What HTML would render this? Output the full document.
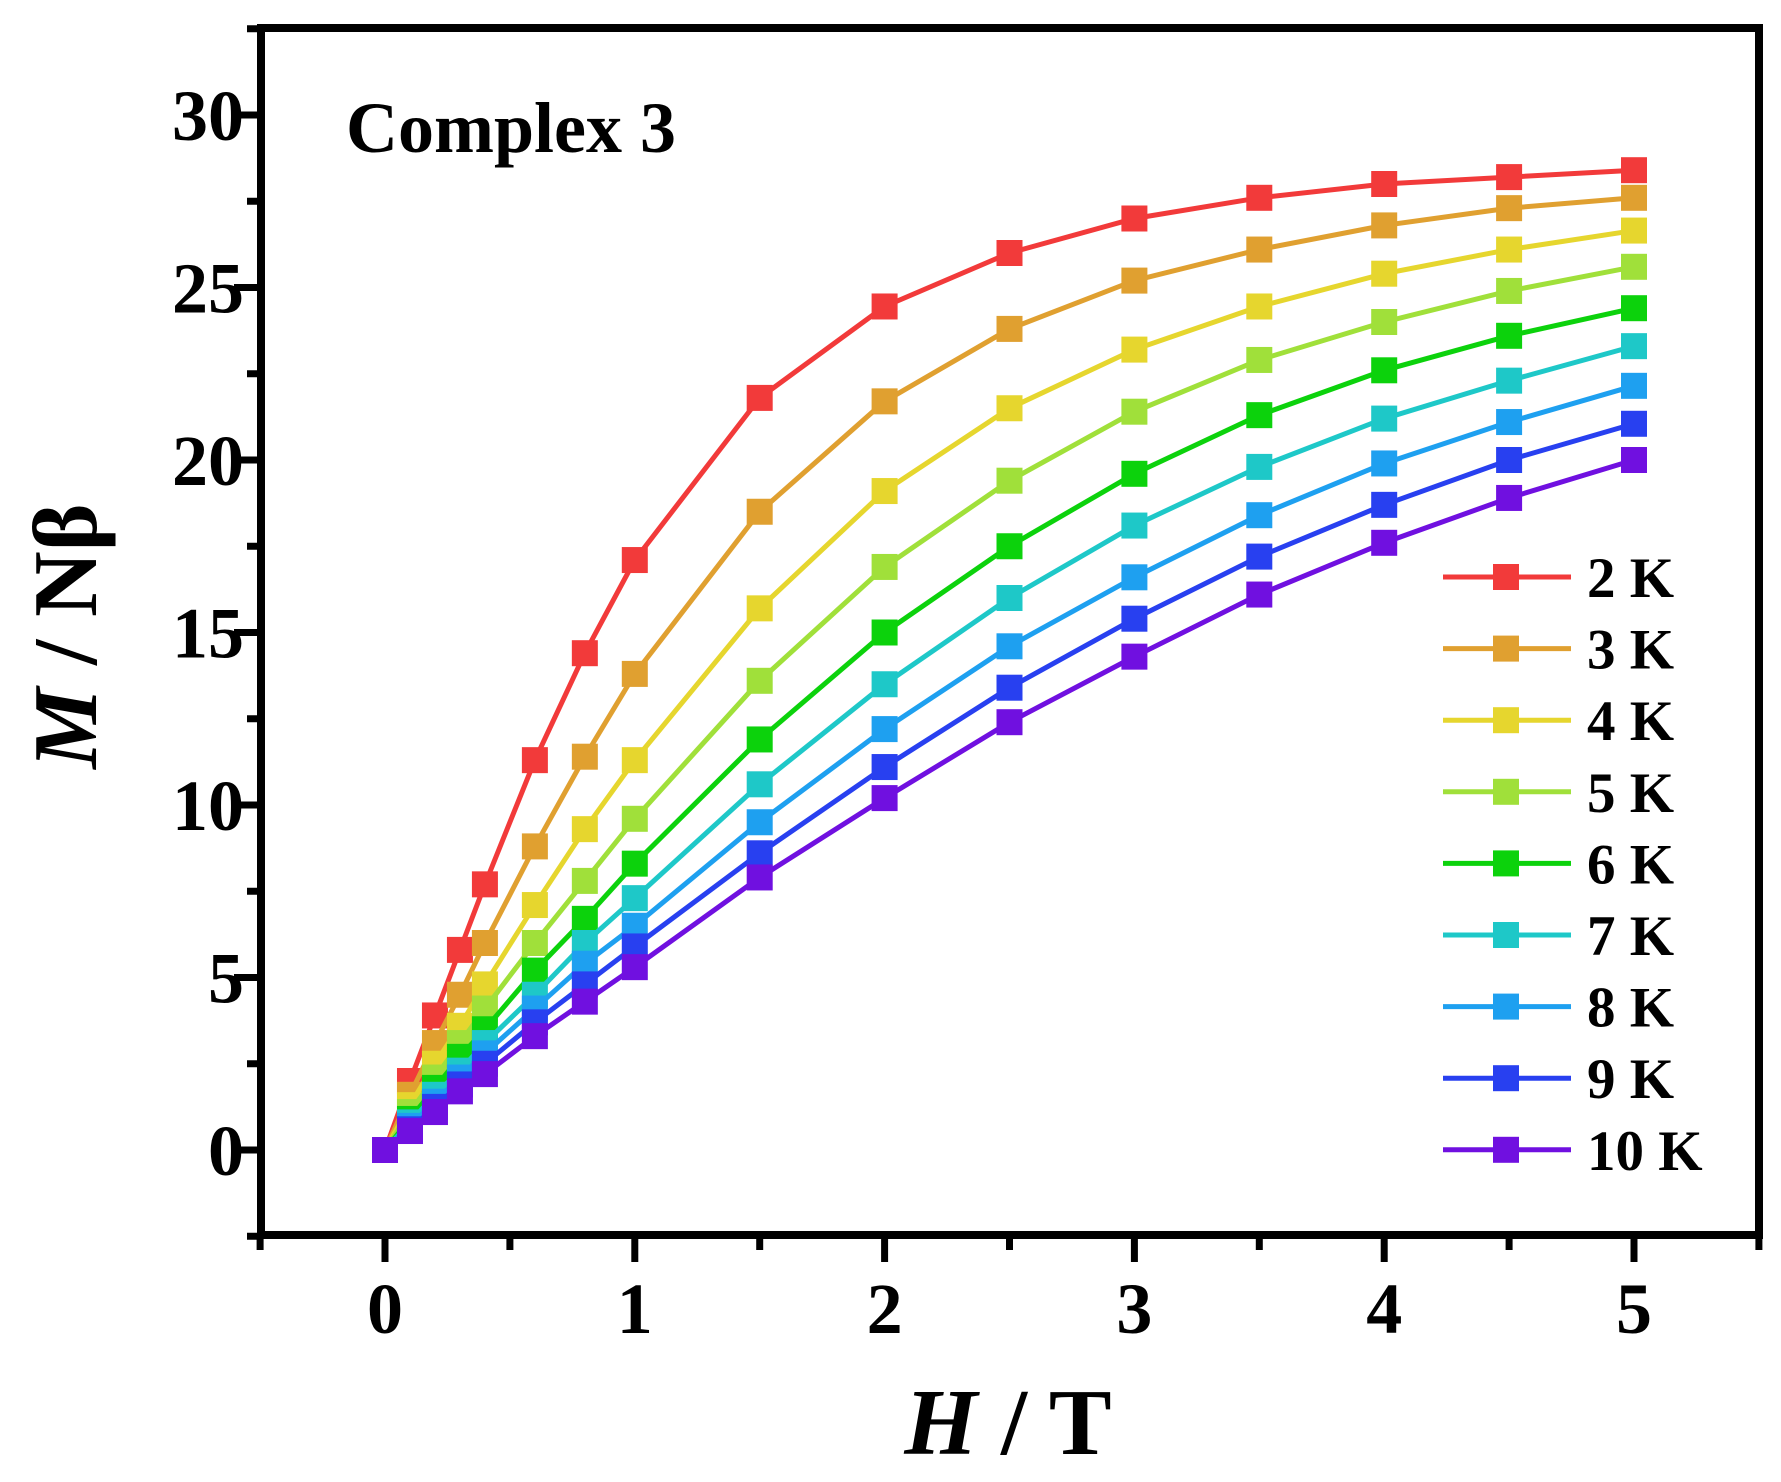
<!DOCTYPE html>
<html><head><meta charset="utf-8">
<style>html,body{margin:0;padding:0;background:#fff;}svg{display:block;}</style></head>
<body>
<svg id="s" width="1781" height="1482" viewBox="0 0 1781 1482" xmlns="http://www.w3.org/2000/svg" font-family="Liberation Serif, serif" font-weight="bold"></svg>
<script>
const s=document.getElementById('s');
const X=h=>385+h*249.8, Y=m=>1150-m*34.5;
let o='';
const xs=[0,0.1,0.2,0.3,0.4,0.6,0.8,1,1.5,2,2.5,3,3.5,4,4.5,5];
const D=[
['#f23a3a','2 K',[0,2.0,3.9,5.8,7.7,11.3,14.4,17.1,21.8,24.45,26.0,27.0,27.6,28.0,28.2,28.4]],
['#e0a030','3 K',[0,1.6,3.1,4.5,6.0,8.8,11.4,13.8,18.5,21.7,23.8,25.2,26.1,26.8,27.3,27.6]],
['#e6d62e','4 K',[0,1.3,2.5,3.6,4.8,7.1,9.3,11.3,15.7,19.1,21.5,23.2,24.45,25.4,26.1,26.65]],
['#a0e03a','5 K',[0,1.1,2.1,3.1,4.1,6.0,7.8,9.6,13.6,16.9,19.4,21.4,22.9,24.0,24.9,25.6]],
['#0cd20c','6 K',[0,0.9,1.8,2.7,3.5,5.2,6.7,8.3,11.9,15.0,17.5,19.6,21.3,22.6,23.6,24.4]],
['#1ec8c8','7 K',[0,0.8,1.6,2.3,3.1,4.5,6.0,7.3,10.6,13.5,16.0,18.1,19.8,21.2,22.3,23.3]],
['#1ea0f0','8 K',[0,0.7,1.4,2.1,2.8,4.1,5.4,6.5,9.5,12.2,14.6,16.6,18.4,19.9,21.1,22.15]],
['#2840f0','9 K',[0,0.6,1.25,1.9,2.5,3.7,4.8,5.9,8.6,11.1,13.4,15.4,17.2,18.7,20.0,21.05]],
['#7010e0','10 K',[0,0.55,1.1,1.7,2.2,3.3,4.3,5.3,7.9,10.2,12.4,14.3,16.1,17.6,18.9,20.0]]];
o+='<rect x="261" y="28" width="1498" height="1207" fill="none" stroke="#000" stroke-width="8"/>';
for(let i=0;i<=5;i++){o+=`<line x1="${X(i)}" y1="1235" x2="${X(i)}" y2="1262" stroke="#000" stroke-width="7"/>`;
o+=`<text x="${X(i)}" y="1333" font-size="72" text-anchor="middle">${i}</text>`;}
for(let i=-0.5;i<=5.5;i+=1){o+=`<line x1="${X(i)}" y1="1235" x2="${X(i)}" y2="1250" stroke="#000" stroke-width="7"/>`;}
for(let m=0;m<=30;m+=5){o+=`<line x1="261" y1="${Y(m)}" x2="234" y2="${Y(m)}" stroke="#000" stroke-width="7"/>`;
o+=`<text x="244" y="${Y(m)+25}" font-size="72" text-anchor="end">${m}</text>`;}
for(let m=-2.5;m<=32.5;m+=5){o+=`<line x1="261" y1="${Y(m)}" x2="247" y2="${Y(m)}" stroke="#000" stroke-width="7"/>`;}
D.forEach(([c,l,v],k)=>{
 o+=`<polyline fill="none" stroke="${c}" stroke-width="5" points="${xs.map((h,i)=>X(h)+','+Y(v[i])).join(' ')}"/>`;
 xs.forEach((h,i)=>{o+=`<rect x="${X(h)-13}" y="${Y(v[i])-13}" width="26" height="26" fill="${c}"/>`;});
 const ly=577+71.6*k;
 o+=`<line x1="1443" y1="${ly}" x2="1571" y2="${ly}" stroke="${c}" stroke-width="5"/><rect x="1493" y="${ly-13}" width="26" height="26" fill="${c}"/>`;
 o+=`<text x="1587" y="${ly+20}" font-size="57">${l}</text>`;
});
o+='<text x="346" y="152" font-size="72">Complex 3</text>';
o+='<text x="1008" y="1454" font-size="94" text-anchor="middle"><tspan font-style="italic">H</tspan> / T</text>';
o+='<text transform="translate(96,636) rotate(-90)" font-size="91" text-anchor="middle"><tspan font-style="italic">M</tspan> / Nβ</text>';
s.innerHTML=o;
</script>
</body></html>
